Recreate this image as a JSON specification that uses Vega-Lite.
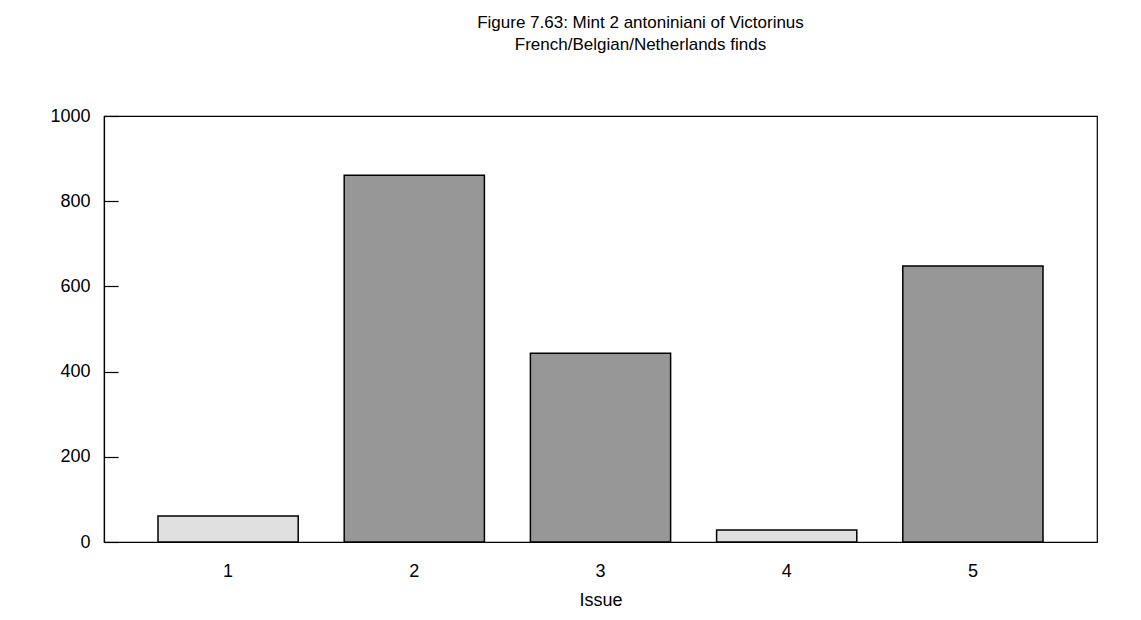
{
  "$schema": "https://vega.github.io/schema/vega-lite/v6.json",
  "autosize": {"type": "none"},
  "width": 993,
  "height": 426,
  "padding": {"left": 104, "top": 116, "right": 44, "bottom": 78},
  "background": "white",
  "title": {
    "text": ["Figure 7.63: Mint 2 antoniniani of Victorinus", "French/Belgian/Netherlands finds"],
    "anchor": "middle",
    "dx": 40,
    "offset": 53,
    "font": "Liberation Sans",
    "fontSize": 17,
    "fontWeight": "normal",
    "lineHeight": 22,
    "color": "black"
  },
  "data": {
    "values": [
      {"issue": "1", "count": 61},
      {"issue": "2", "count": 861},
      {"issue": "3", "count": 443},
      {"issue": "4", "count": 28},
      {"issue": "5", "count": 648}
    ]
  },
  "mark": {"type": "bar", "stroke": "black", "strokeWidth": 1.5},
  "encoding": {
    "x": {
      "field": "issue",
      "type": "ordinal",
      "title": "Issue",
      "scale": {"paddingInner": 0.247, "paddingOuter": 0.29},
      "axis": {
        "labelAngle": 0,
        "ticks": false,
        "labelPadding": 20,
        "titlePadding": 11,
        "domainColor": "black",
        "domainWidth": 1.2
      }
    },
    "y": {
      "field": "count",
      "type": "quantitative",
      "title": null,
      "scale": {"domain": [0, 1000], "nice": false},
      "axis": {
        "values": [0, 200, 400, 600, 800, 1000],
        "format": "d",
        "grid": false,
        "tickSize": -14,
        "tickColor": "black",
        "tickWidth": 1.2,
        "labelPadding": 28,
        "domainColor": "black",
        "domainWidth": 1.2
      }
    },
    "color": {
      "field": "issue",
      "type": "ordinal",
      "legend": null,
      "scale": {"domain": ["1", "2", "3", "4", "5"], "range": ["#e0e0e0", "#979797", "#979797", "#e0e0e0", "#979797"]}
    }
  },
  "config": {
    "view": {"stroke": "black", "strokeWidth": 1.2},
    "axis": {
      "labelFont": "Liberation Sans",
      "labelFontSize": 18,
      "labelColor": "black",
      "titleFont": "Liberation Sans",
      "titleFontSize": 18,
      "titleFontWeight": "normal",
      "titleColor": "black"
    }
  }
}
